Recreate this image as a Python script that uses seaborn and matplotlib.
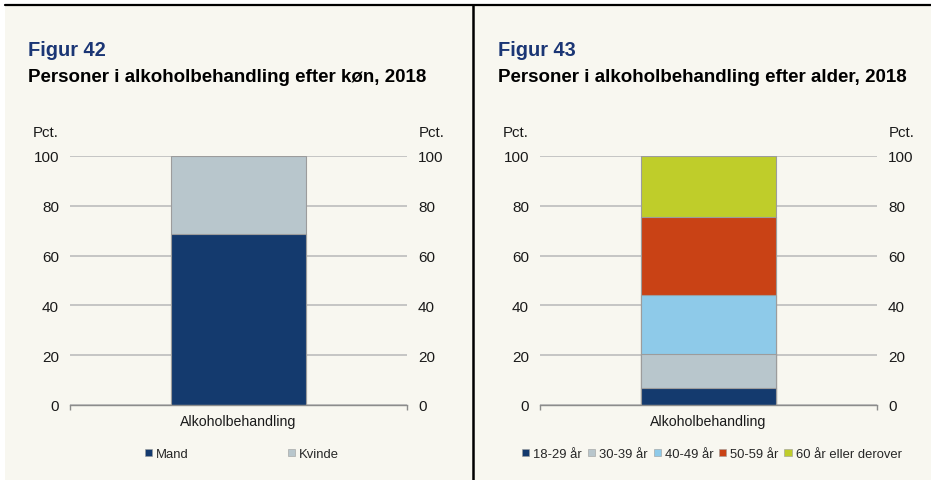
import matplotlib
matplotlib.use("Agg")
import matplotlib.pyplot as plt
import seaborn as sns
from matplotlib.patches import Patch, Rectangle
from matplotlib.lines import Line2D

sns.set_theme(style="white")
plt.rcParams["font.family"] = ["Liberation Sans", "DejaVu Sans"]

# Data
category = ["Alkoholbehandling"]
gender_labels = ["Mand", "Kvinde"]
gender_values = [68.7, 31.3]
age_labels = ["18-29 år", "30-39 år", "40-49 år", "50-59 år", "60 år eller derover"]
age_values = [7.0, 13.5, 23.8, 31.2, 24.5]
yticks = [0, 20, 40, 60, 80, 100]

gender_colors = ["#143a6e", "#b8c6cc"]
age_colors = ["#143a6e", "#b8c6cc", "#8ecae9", "#c94215", "#bfcd2a"]

W, H = 931, 481
BG = "#f8f7f0"
GRID = "#b8b8b8"
EDGE = "#9c9c9c"
TEXT = "#1a1a1a"
TITLE_BLUE = "#1b3675"

fig = plt.figure(figsize=(W / 100, H / 100), dpi=100, facecolor="white")

# cream panel background and black frame lines
fig.add_artist(Rectangle((5 / W, 0), 1 - 5 / W, 1 - 6 / H, transform=fig.transFigure,
                         facecolor=BG, edgecolor="none", zorder=-10))
fig.add_artist(Line2D([5 / W, 1], [1 - 6 / H, 1 - 6 / H], transform=fig.transFigure,
                      color="black", lw=1.6))
fig.add_artist(Line2D([472.5 / W, 472.5 / W], [0, 1 - 6 / H], transform=fig.transFigure,
                      color="black", lw=1.8))


def px(v):
    # pixels to points
    return v * 72 / 100


def stacked_panel(ax_rect, labels, values, colors, colspacing, title, subtitle, title_x):
    ax = fig.add_axes(ax_rect)
    ax.set_facecolor("none")

    # draw cumulative totals from the top segment down so each overlays the next
    cums = []
    total = 0
    for v in values:
        total += v
        cums.append(total)
    for i in reversed(range(len(values))):
        sns.barplot(x=category, y=[cums[i]], color=colors[i], width=0.4, saturation=1,
                    errorbar=None, edgecolor=EDGE, linewidth=0.8, ax=ax, zorder=2)

    ax.set_ylim(0, 100)
    ax.set_xlim(-0.5, 0.5)
    ax.set_yticks(yticks)
    ax.set_yticklabels([str(t) for t in yticks])
    ax.yaxis.grid(True, color=GRID, lw=1.1)
    ax.set_axisbelow(True)
    ax.set_xlabel("")
    ax.set_ylabel("")

    for s in ["left", "right", "top"]:
        ax.spines[s].set_visible(False)
    ax.spines["bottom"].set_color("#8c8c8c")
    ax.spines["bottom"].set_linewidth(1.0)

    ax.tick_params(axis="y", length=0, pad=px(11), labelsize=11, colors=TEXT,
                   labelleft=True, labelright=True)
    ax.tick_params(axis="x", which="major", length=0, pad=px(9), labelsize=10.2, colors=TEXT)
    ax.set_xticks([-0.5, 0.5], minor=True)
    ax.tick_params(axis="x", which="minor", length=3.5, width=1.0, color="#8c8c8c",
                   direction="out", bottom=True)

    ax.annotate("Pct.", xy=(0, 1), xycoords="axes fraction", xytext=(-px(11), px(24)),
                textcoords="offset points", ha="right", va="center", fontsize=10.8, color=TEXT)
    ax.annotate("Pct.", xy=(1, 1), xycoords="axes fraction", xytext=(px(12), px(24)),
                textcoords="offset points", ha="left", va="center", fontsize=10.8, color=TEXT)

    handles = [Patch(facecolor=c, edgecolor=EDGE, linewidth=0.4) for c in colors]
    ax.legend(handles, labels, loc="center", bbox_to_anchor=(0.51, -0.197), ncol=len(labels),
              frameon=False, handlelength=0.55, handleheight=0.55, handletextpad=0.3,
              columnspacing=colspacing, fontsize=9.4, borderaxespad=0, borderpad=0)

    fig.text(title_x / W, 1 - 55.5 / H, title, fontsize=14.4, fontweight="bold",
             color=TITLE_BLUE, va="baseline", ha="left")
    fig.text(title_x / W, 1 - 82.5 / H, subtitle, fontsize=13.5, fontweight="bold",
             color="black", va="baseline", ha="left")
    return ax


ax_h = 249 / H
ax_b = (H - 406) / H
stacked_panel([70 / W, ax_b, 337 / W, ax_h], gender_labels, gender_values, gender_colors,
              7.6, "Figur 42", "Personer i alkoholbehandling efter køn, 2018", 28)
stacked_panel([540 / W, ax_b, 337 / W, ax_h], age_labels, age_values, age_colors,
              0.45, "Figur 43", "Personer i alkoholbehandling efter alder, 2018", 498)

fig.savefig("out.png", dpi=100, facecolor="white")
